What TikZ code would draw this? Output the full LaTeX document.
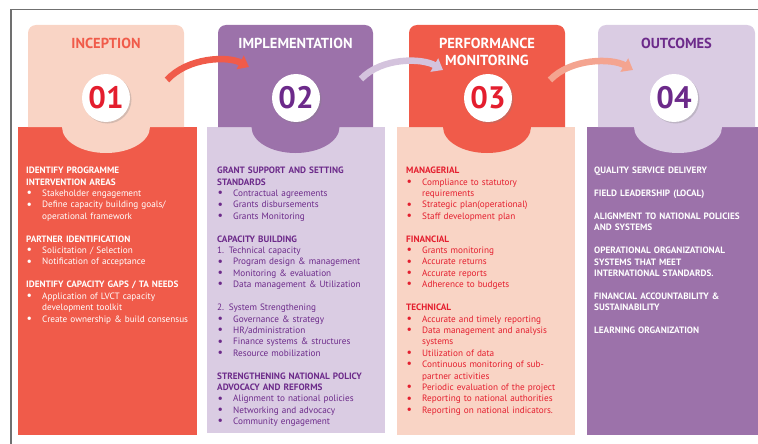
\documentclass[tikz,border=0pt]{standalone}
\usepackage{fontspec}
\setmainfont{PT Sans}
\usetikzlibrary{arrows.meta,shadows}

\definecolor{coral}{RGB}{240,91,74}
\definecolor{peach}{RGB}{249,212,197}
\definecolor{plum}{RGB}{156,114,170}
\definecolor{lilac}{RGB}{218,204,227}
\definecolor{redtext}{RGB}{228,30,46}
\definecolor{darkplum}{RGB}{108,42,138}
\definecolor{salmon}{RGB}{244,164,144}
\definecolor{framegray}{RGB}{112,112,112}

\newcommand{\hd}[1]{\par\noindent\textbf{#1}}
\newcommand{\bul}[1]{\par\hangindent=16pt\hangafter=1\noindent\hbox to 16pt{\hspace{0.5pt}\raisebox{-0.05ex}{\fontsize{12}{12}\selectfont\textbullet}\hfil}#1}
\newcommand{\numline}[1]{\par\noindent #1}
\newcommand{\gap}{\par\vspace{11.5pt}}

\begin{document}
\begin{tikzpicture}[x=1pt,y=-1pt,
    cardtitle/.style={font=\fontsize{14.5}{17}\selectfont\bfseries, align=center},
    numdisc/.style={circle, fill=white, minimum size=48pt, inner sep=0pt,
      font=\fontsize{31}{31}\selectfont\bfseries,
      drop shadow={opacity=0.3, shadow xshift=1.5pt, shadow yshift=-1.5pt}},
    coltext/.style={anchor=north west, inner sep=0pt, text width=190pt, align=left,
      font=\fontsize{9.2}{11.4}\selectfont},
    flow/.style={line width=6.5pt, -{Triangle[width=15pt,length=10pt]}}]

    \useasboundingbox (0,0) rectangle (758,444);
    \draw[framegray, line width=1.5pt] (11,444) -- (11,9.5) -- (758,9.5); % outer frame

    % lower boxes
    \fill[coral] (18,127) rectangle (197,435);
    \fill[lilac] (207,127) rectangle (385,433);
    \fill[peach] (397,127) rectangle (575,435);
    \fill[plum] (587,127) rectangle (758,435);

    % upper cards: left/right/middle/colour, each ending in a bowl
    \foreach \l/\r/\m/\col in {28/184/106/peach, 218/373/295.5/plum, 409/565/487/coral, 598/755/678/lilac}
      \fill[\col] (\l,127) -- (\l,33) .. controls (\l,28.6) and (\l+3.6,25) .. (\l+8,25)
        -- (\r-8,25) .. controls (\r-3.6,25) and (\r,28.6) .. (\r,33) -- (\r,127)
        -- (\m+44,127) .. controls (\m+44,141.4) and (\m+24.3,153) .. (\m,153)
        .. controls (\m-24.3,153) and (\m-44,141.4) .. (\m-44,127) -- cycle;

    % titles
    \node[cardtitle, text=coral] (t1) at (106,43) {INCEPTION};
    \node[cardtitle, text=white] (t2) at (295.5,43) {IMPLEMENTATION};
    \node[cardtitle, text=white] (t3) at (487,51.5) {PERFORMANCE\\MONITORING};
    \node[cardtitle, text=darkplum] (t4) at (676.5,43) {OUTCOMES};

    % number discs
    \node[numdisc, text=redtext] (n1) at (106,98) {01};
    \node[numdisc, text=darkplum] (n2) at (296,98) {02};
    \node[numdisc, text=redtext] (n3) at (488,98) {03};
    \node[numdisc, text=darkplum] (n4) at (674,98) {04};

    % arrows from card to card
    \coordinate (a1) at (167,80); \coordinate (b1) at (249,67);
    \coordinate (a2) at (361,79); \coordinate (b2) at (443,70);
    \coordinate (a3) at (550,80); \coordinate (b3) at (633,70);
    \draw[flow, coral] (a1) .. controls (188,57) and (228,56) .. (b1);
    \draw[flow, lilac!90!plum] (a2) .. controls (382,57) and (422,58) .. (b2);
    \draw[flow, salmon] (a3) .. controls (571,58) and (612,58) .. (b3);

    % column texts
    \node[coltext, text=white] (c1) at (26,162) {%
      \hd{IDENTIFY PROGRAMME\newline INTERVENTION AREAS}
      \bul{Stakeholder engagement}
      \bul{Define capacity building goals/\newline operational framework}
      \gap
      \hd{PARTNER IDENTIFICATION}
      \bul{Solicitation / Selection}
      \bul{Notification of acceptance}
      \gap
      \hd{IDENTIFY CAPACITY GAPS / TA NEEDS}
      \bul{Application of LVCT capacity\newline development toolkit}
      \bul{Create ownership \& build consensus}};

    \node[coltext, text=darkplum] (c2) at (217,162) {%
      \hd{GRANT SUPPORT AND SETTING\newline STANDARDS}
      \bul{Contractual agreements}
      \bul{Grants disbursements}
      \bul{Grants Monitoring}
      \gap
      \hd{CAPACITY BUILDING}
      \numline{1. Technical capacity}
      \bul{Program design \& management}
      \bul{Monitoring \& evaluation}
      \bul{Data management \& Utilization}
      \gap
      \numline{2. System Strengthening}
      \bul{Governance \& strategy}
      \bul{HR/administration}
      \bul{Finance systems \& structures}
      \bul{Resource mobilization}
      \gap
      \hd{STRENGTHENING NATIONAL POLICY\newline ADVOCACY AND REFORMS}
      \bul{Alignment to national policies}
      \bul{Networking and advocacy}
      \bul{Community engagement}};

    \node[coltext, text=redtext] (c3) at (406,162) {%
      \hd{MANAGERIAL}
      \bul{Compliance to statutory\newline requirements}
      \bul{Strategic plan(operational)}
      \bul{Staff development plan}
      \gap
      \hd{FINANCIAL}
      \bul{Grants monitoring}
      \bul{Accurate returns}
      \bul{Accurate reports}
      \bul{Adherence to budgets}
      \gap
      \hd{TECHNICAL}
      \bul{Accurate and timely reporting}
      \bul{Data management and analysis\newline systems}
      \bul{Utilization of data}
      \bul{Continuous monitoring of sub-\newline partner activities}
      \bul{Periodic evaluation of the project}
      \bul{Reporting to national authorities}
      \bul{Reporting on national indicators.}};

    \node[coltext, text=white, text width=162pt] (c4) at (594,162) {%
      \hd{QUALITY SERVICE DELIVERY}
      \gap
      \hd{FIELD LEADERSHIP (LOCAL)}
      \gap
      \hd{ALIGNMENT TO NATIONAL POLICIES\newline AND SYSTEMS}
      \gap
      \hd{OPERATIONAL ORGANIZATIONAL\newline SYSTEMS THAT MEET\newline INTERNATIONAL STANDARDS.}
      \gap
      \hd{FINANCIAL ACCOUNTABILITY \&\newline SUSTAINABILITY}
      \gap
      \hd{LEARNING ORGANIZATION}};
\end{tikzpicture}
\end{document}
